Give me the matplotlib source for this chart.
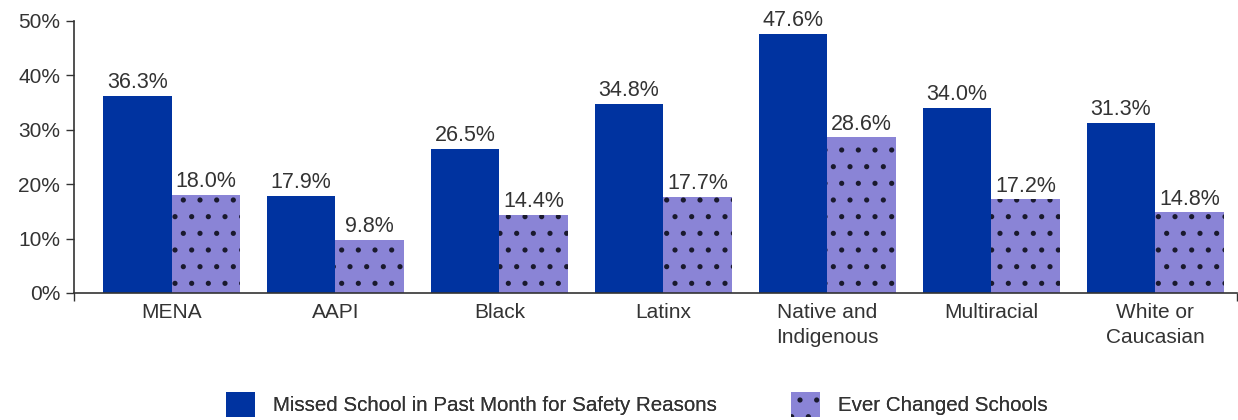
import matplotlib
matplotlib.use("Agg")
import matplotlib.pyplot as plt
from matplotlib.patches import Patch
import numpy as np

categories = ["MENA", "AAPI", "Black", "Latinx", "Native and\nIndigenous", "Multiracial", "White or\nCaucasian"]
missed = [36.3, 17.9, 26.5, 34.8, 47.6, 34.0, 31.3]
changed = [18.0, 9.8, 14.4, 17.7, 28.6, 17.2, 14.8]
series_names = ["Missed School in Past Month for Safety Reasons", "Ever Changed Schools"]
yticks = [0, 10, 20, 30, 40, 50]

BLUE = "#0033A0"
PURPLE = "#8A84D6"
TXT = "#333333"
HATCH = "#1a1a2e"

plt.rcParams['font.family'] = ['Liberation Sans', 'DejaVu Sans']
plt.rcParams['hatch.linewidth'] = 1.3

fig = plt.figure(figsize=(12.38, 4.2), dpi=100)
ax = fig.add_axes([74/1238, 1-293/420, (1237-74)/1238, (293-21)/420])

x = np.arange(len(categories))
w = 0.418
b1 = ax.bar(x - w/2, missed, w, color=BLUE, linewidth=0)
b2 = ax.bar(x + w/2, changed, w, color=PURPLE, edgecolor=HATCH, linewidth=0, hatch=".")

for bars, vals in ((b1, missed), (b2, changed)):
    for rect, v in zip(bars, vals):
        ax.annotate(f"{v:.1f}%", (rect.get_x() + rect.get_width()/2, v),
                    xytext=(0, 5.5), textcoords="offset points",
                    ha="center", va="baseline", fontsize=15.5, color=TXT)

xmin, xmax = -0.595, 6.5
ax.set_xlim(xmin, xmax)
ax.set_ylim(0, 50)
ax.set_yticks(yticks)
ax.set_yticklabels([f"{t}%" for t in yticks], fontsize=15, color=TXT)
ax.set_xticks(x)
ax.set_xticklabels(categories, fontsize=15, color=TXT, linespacing=1.4)
ax.tick_params(axis="x", which="major", length=0, pad=7)
ax.set_xticks([xmin, xmax], minor=True)
ax.tick_params(axis="x", which="minor", length=6, color=TXT, width=1)
ax.tick_params(axis="y", length=6, color=TXT, width=1, pad=4)

for s in ["top", "right"]:
    ax.spines[s].set_visible(False)
for s in ["left", "bottom"]:
    ax.spines[s].set_color(TXT)
    ax.spines[s].set_linewidth(1.2)

handles = [Patch(facecolor=BLUE, linewidth=0),
           Patch(facecolor=PURPLE, edgecolor=HATCH, linewidth=0, hatch=".")]
leg_x = [226/1238, 791/1238]
leg_y = 1 - 404.5/420
for h, name, lx in zip(handles, series_names, leg_x):
    leg = fig.legend([h], [name], loc="center left", bbox_to_anchor=(lx, leg_y),
                     frameon=False, borderpad=0, borderaxespad=0,
                     handlelength=1.42, handleheight=1.42, handletextpad=0.85,
                     prop={'family': ['Liberation Sans', 'DejaVu Sans'], 'size': 14.8})
    for t in leg.get_texts():
        t.set_color(TXT)
    fig.add_artist(leg)

fig.savefig("out.png", dpi=100)
